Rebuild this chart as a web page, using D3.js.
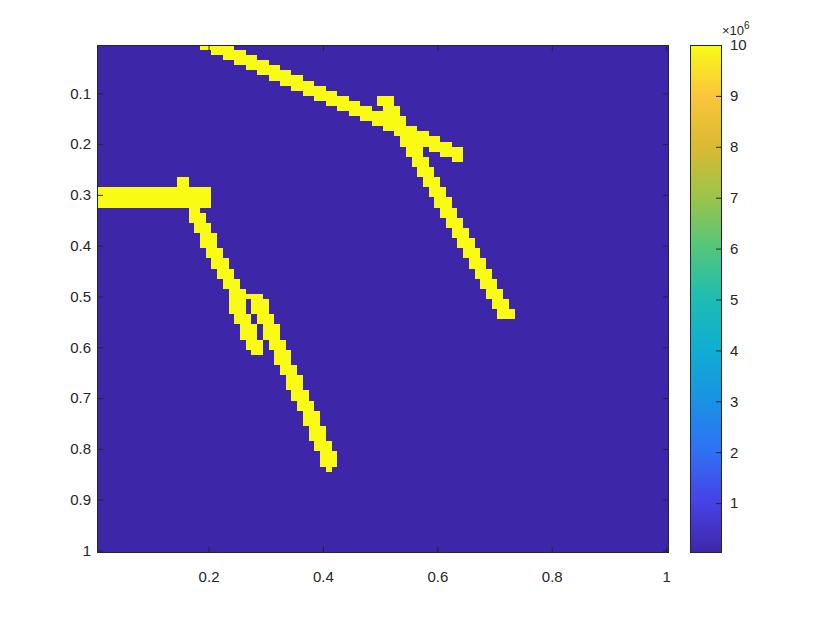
<!DOCTYPE html>
<html><head><meta charset="utf-8">
<script src="https://cdn.jsdelivr.net/npm/d3@7"></script>
<style>
body{margin:0;background:#fff}
text{font-family:"Liberation Sans",Arial,Helvetica,sans-serif;fill:#262626}
</style>
</head><body>
<svg id="chart" width="830" height="623"></svg>
<script>
// ---------------- data ----------------
const nRows = 100, nCols = 100;
const lowValue = 2e4, highValue = 1e7;
// yellow (high value) runs: [row, firstCol, lastCol]
const upperLine = [[1,19,24],[2,21,26],[3,23,28],[4,25,30],[5,27,32],[6,29,34],[7,31,36],[8,33,38],[9,35,40],[10,37,42],[11,39,44],[12,41,46],[13,43,48],[14,45,50],[15,47,52],[16,49,54],[17,51,56],[18,53,58],[19,55,60],[20,57,62],[21,59,64],[22,61,64],[23,63,64]];
const upperBranch = [[11,50,52],[12,50,52],[13,51,53],[14,51,53],[15,52,54],[16,52,54],[17,53,55],[18,53,55],[19,54,56],[20,54,56],[21,55,57],[22,55,57],[23,56,58],[24,56,58],[25,57,59],[26,57,59],[27,58,60],[28,58,60],[29,59,61],[30,59,61],[31,60,62],[32,60,62],[33,61,63],[34,61,63],[35,62,64],[36,62,64],[37,63,65],[38,63,65],[39,64,66],[40,64,66],[41,65,67],[42,65,67],[43,66,68],[44,66,68],[45,67,69],[46,67,69],[47,68,70],[48,68,70],[49,69,71],[50,69,71],[51,70,72],[52,70,72],[53,71,73],[54,71,73]];
const leftBar = [[27,15,16],[28,15,16],[29,1,20],[30,1,20],[31,1,20],[32,1,20]];
const leftStroke = [[33,17,18],[34,17,19],[35,17,19],[36,18,20],[37,18,20],[38,19,21],[39,19,21],[40,19,21],[41,20,22],[42,20,22],[43,21,23],[44,21,23],[45,22,24],[46,22,24],[47,23,25],[48,23,25],[49,24,26],[50,24,26],[51,24,26],[52,24,26],[53,24,26],[54,25,27],[55,25,27],[56,26,28],[57,26,28],[58,26,28],[59,27,29],[60,27,29],[61,28,29]];
const loopStroke = [[50,27,29],[51,28,30],[52,28,30],[53,28,30],[54,29,31],[55,29,31],[56,30,32],[57,30,32],[58,30,32],[59,31,33],[60,31,33],[61,32,34],[62,32,34],[63,32,34],[64,33,35],[65,33,35],[66,34,36],[67,34,36],[68,34,36],[69,35,37],[70,35,37],[71,36,38],[72,36,38],[73,37,39],[74,37,39],[75,37,39],[76,38,40],[77,38,40],[78,38,40],[79,39,41],[80,39,41],[81,40,42],[82,40,42],[83,40,42],[84,41,41]];
const xTickValues = [0.2,0.4,0.6,0.8,1];
const yTickValues = [0.1,0.2,0.3,0.4,0.5,0.6,0.7,0.8,0.9,1];
const colorbarTicks = [1,2,3,4,5,6,7,8,9,10]; // x 10^6
const parulaStops = ["#3e26a8","#4742e6","#2f70f5","#1a92e4","#0fadd2","#1ebcb3","#52c67c","#9ac44a","#dbb933","#fac53a","#f9fb15"];

// ---------------- matrix ----------------
const matrix = d3.range(nRows).map(() => d3.range(nCols).map(() => lowValue));
[upperLine, upperBranch, leftBar, leftStroke, loopStroke].forEach(list =>
  list.forEach(([r, c0, c1]) => { for (let c = c0; c <= c1; c++) matrix[r-1][c-1] = highValue; }));
const cells = [];
matrix.forEach((row, i) => row.forEach((v, j) => cells.push({r: i+1, c: j+1, v})));

// ---------------- layout ----------------
const svg = d3.select("#chart");
const plot = {left: 97, right: 669, top: 45, bottom: 553};
const x = d3.scaleLinear().domain([0.005, 1.005]).range([plot.left, plot.right]);
const y = d3.scaleLinear().domain([0.005, 1.005]).range([plot.top, plot.bottom]);
const colorInterp = d3.piecewise(d3.interpolateRgb, parulaStops);
const color = d3.scaleSequential(colorInterp).domain([lowValue, highValue]);

svg.append("g").attr("shape-rendering", "crispEdges")
  .selectAll("rect").data(cells).join("rect")
  .attr("x", d => Math.round(x((d.c - 0.5) / nCols)))
  .attr("y", d => Math.round(y((d.r - 0.5) / nRows)))
  .attr("width", d => Math.round(x((d.c + 0.5) / nCols)) - Math.round(x((d.c - 0.5) / nCols)))
  .attr("height", d => Math.round(y((d.r + 0.5) / nRows)) - Math.round(y((d.r - 0.5) / nRows)))
  .attr("fill", d => color(d.v));

const fmt = d => String(+d.toFixed(1));
const tick = 6;
const fontPx = "15px";
function styleAxis(g, showLabels) {
  g.select(".domain").remove();
  g.selectAll(".tick line").attr("stroke", "#262626").attr("stroke-width", 1);
  g.selectAll(".tick text").style("font-size", fontPx).attr("fill", "#262626");
  if (!showLabels) g.selectAll(".tick text").remove();
}
svg.append("g").attr("transform", `translate(0,${plot.bottom})`)
  .call(d3.axisBottom(x).tickValues(xTickValues).tickFormat(fmt).tickSize(-tick).tickPadding(18))
  .call(g => styleAxis(g, true));
svg.append("g").attr("transform", `translate(0,${plot.top})`)
  .call(d3.axisTop(x).tickValues(xTickValues).tickSize(-tick))
  .call(g => styleAxis(g, false));
svg.append("g").attr("transform", `translate(${plot.left},0)`)
  .call(d3.axisLeft(y).tickValues(yTickValues).tickFormat(fmt).tickSize(-tick).tickPadding(6))
  .call(g => styleAxis(g, true));
svg.append("g").attr("transform", `translate(${plot.right},0)`)
  .call(d3.axisRight(y).tickValues(yTickValues).tickSize(-tick))
  .call(g => styleAxis(g, false));
svg.append("rect").attr("x", plot.left + 0.5).attr("y", plot.top + 0.5)
  .attr("width", plot.right - plot.left - 1).attr("height", plot.bottom - plot.top - 1)
  .attr("fill", "none").attr("stroke", "#262626").attr("stroke-width", 1);

// ---------------- colorbar ----------------
const cb = {left: 690, right: 722, top: 45, bottom: 553};
const cScale = d3.scaleLinear().domain([lowValue / 1e6, highValue / 1e6]).range([cb.bottom, cb.top]);
const grad = svg.append("defs").append("linearGradient").attr("id", "cbgrad")
  .attr("x1", 0).attr("y1", 1).attr("x2", 0).attr("y2", 0);
d3.range(0, 1.0001, 0.02).forEach(t => grad.append("stop").attr("offset", t).attr("stop-color", colorInterp(t)));
svg.append("rect").attr("x", cb.left).attr("y", cb.top).attr("width", cb.right - cb.left)
  .attr("height", cb.bottom - cb.top).attr("fill", "url(#cbgrad)");
svg.append("g").attr("transform", `translate(${cb.right},0)`)
  .call(d3.axisRight(cScale).tickValues(colorbarTicks).tickFormat(d3.format("d")).tickSize(-tick).tickPadding(8))
  .call(g => styleAxis(g, true));
svg.append("rect").attr("x", cb.left + 0.5).attr("y", cb.top + 0.5)
  .attr("width", cb.right - cb.left - 1).attr("height", cb.bottom - cb.top - 1)
  .attr("fill", "none").attr("stroke", "#262626").attr("stroke-width", 1);
const mult = svg.append("text").attr("x", 722).attr("y", 35).style("font-size", "13px");
mult.append("tspan").text("×10");
mult.append("tspan").attr("dy", -6).style("font-size", "10px").text("6");
</script>
</body></html>
